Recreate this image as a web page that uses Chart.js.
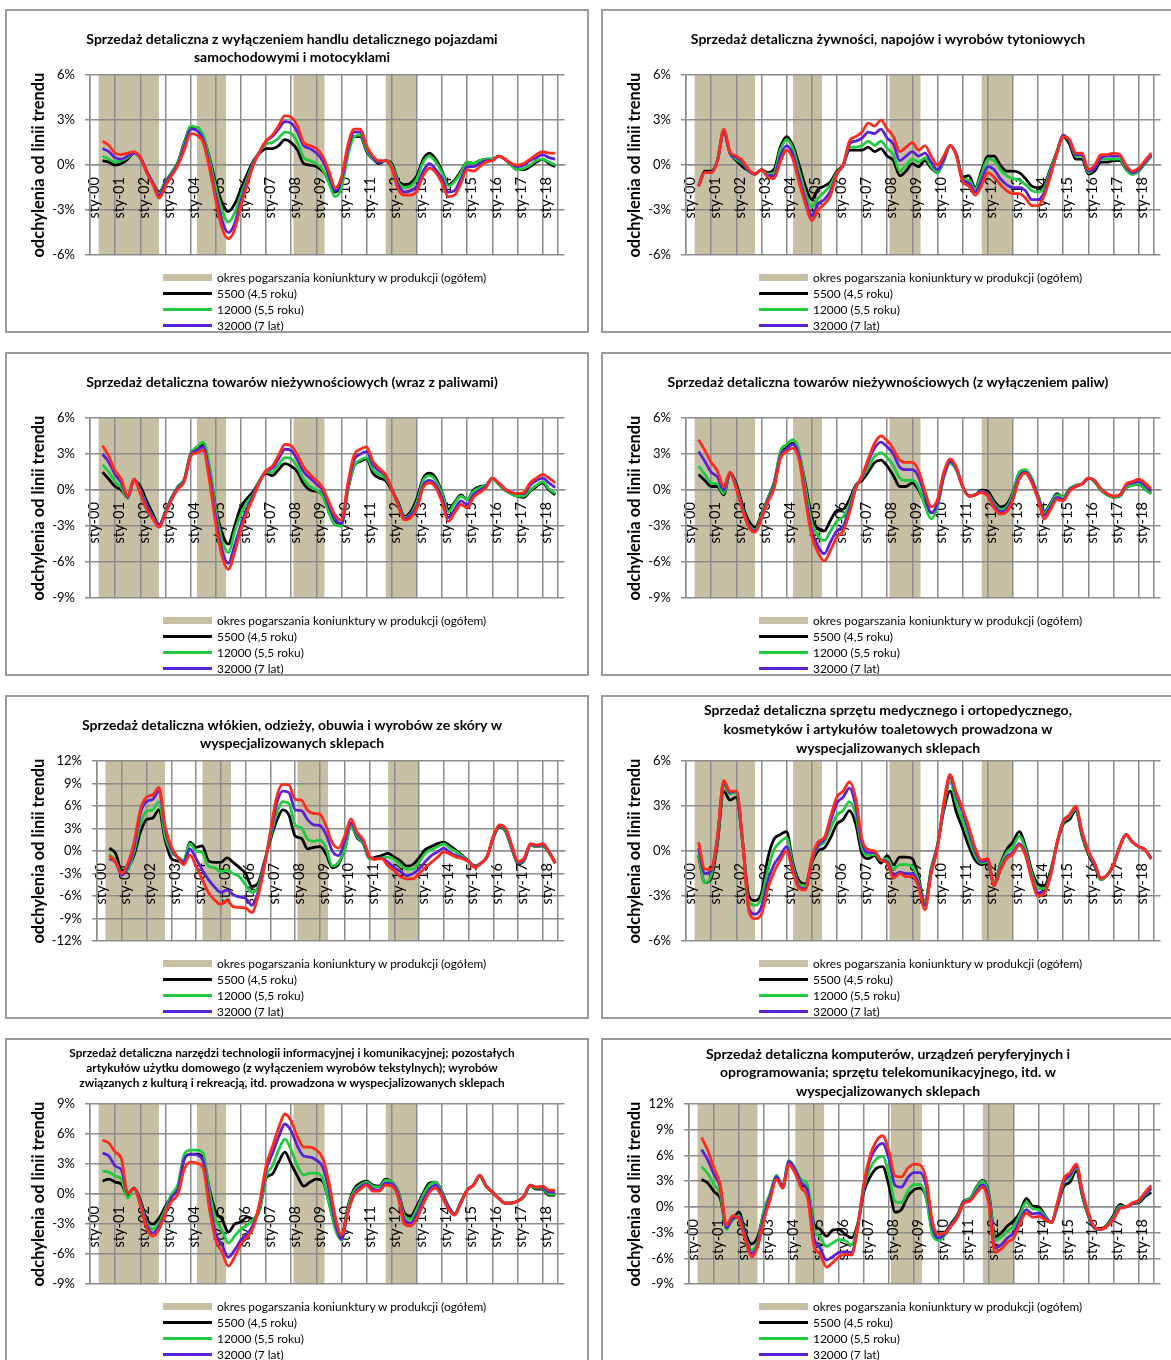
<!DOCTYPE html>
<html lang="pl">
<head>
<meta charset="utf-8">
<title>Odchylenia od linii trendu – sprzedaż detaliczna</title>
<script src="https://cdn.jsdelivr.net/npm/chart.js@4.4.1/dist/chart.umd.min.js"></script>
<style>
  html, body { margin: 0; padding: 0; background: #ffffff; }
  #page { position: relative; width: 1171px; height: 1360px; overflow: hidden; background: #fff; }
  .panel { position: absolute; width: 584px; height: 324px; box-sizing: border-box;
           border: 2px solid #9a9a9a; overflow: hidden; background: #fff; }
  .panel canvas { position: absolute; left: 0; top: 0; }
  .legend { position: absolute; left: 156px; top: 258px; font-family: Lato, sans-serif;
            font-size: 11.9px; color: #000; }
  .legend .row { height: 16px; display: flex; align-items: center; white-space: nowrap; }
  .legend .sw { display: inline-block; width: 49px; margin-right: 5px; }
  .legend .sw.band { height: 7px; }
  .legend .sw.line { height: 3px; }
</style>
</head>
<body>
<div id="page"></div>
<script>
// ---------------- DATA ----------------
const periods = ['2000-07','2000-10',
 '2001-01','2001-04','2001-07','2001-10','2002-01','2002-04','2002-07','2002-10',
 '2003-01','2003-04','2003-07','2003-10','2004-01','2004-04','2004-07','2004-10',
 '2005-01','2005-04','2005-07','2005-10','2006-01','2006-04','2006-07','2006-10',
 '2007-01','2007-04','2007-07','2007-10','2008-01','2008-04','2008-07','2008-10',
 '2009-01','2009-04','2009-07','2009-10','2010-01','2010-04','2010-07','2010-10',
 '2011-01','2011-04','2011-07','2011-10','2012-01','2012-04','2012-07','2012-10',
 '2013-01','2013-04','2013-07','2013-10','2014-01','2014-04','2014-07','2014-10',
 '2015-01','2015-04','2015-07','2015-10','2016-01','2016-04','2016-07','2016-10',
 '2017-01','2017-04','2017-07','2017-10','2018-01','2018-04','2018-07'];

// periods of deteriorating business conditions in production (first and last month, inclusive)
const bandStart = ['2000-05','2004-04','2008-02','2011-10'];
const bandEnd   = ['2002-09','2005-05','2009-04','2012-12'];
const lastObservation = '2018-08';

const xTickLabels = ['sty-00','sty-01','sty-02','sty-03','sty-04','sty-05','sty-06','sty-07','sty-08',
 'sty-09','sty-10','sty-11','sty-12','sty-13','sty-14','sty-15','sty-16','sty-17','sty-18'];

const legendLabels = ['okres pogarszania koniunktury w produkcji (ogółem)',
 '5500 (4,5 roku)', '12000 (5,5 roku)', '32000 (7 lat)'];

const panelTitles = [
 ['Sprzedaż detaliczna z wyłączeniem handlu detalicznego pojazdami','samochodowymi i motocyklami'],
 ['Sprzedaż detaliczna żywności, napojów i wyrobów tytoniowych'],
 ['Sprzedaż detaliczna towarów nieżywnościowych (wraz z paliwami)'],
 ['Sprzedaż detaliczna towarów nieżywnościowych (z wyłączeniem paliw)'],
 ['Sprzedaż detaliczna włókien, odzieży, obuwia i wyrobów ze skóry w','wyspecjalizowanych sklepach'],
 ['Sprzedaż detaliczna sprzętu medycznego i ortopedycznego,','kosmetyków i artykułów toaletowych prowadzona w','wyspecjalizowanych sklepach'],
 ['Sprzedaż detaliczna narzędzi technologii informacyjnej i komunikacyjnej; pozostałych','artykułów użytku domowego (z wyłączeniem wyrobów tekstylnych); wyrobów','związanych z kulturą i rekreacją, itd. prowadzona w wyspecjalizowanych sklepach'],
 ['Sprzedaż detaliczna komputerów, urządzeń peryferyjnych i','oprogramowania; sprzętu telekomunikacyjnego, itd. w','wyspecjalizowanych sklepach']
];
const yMin = [-6,-6,-9,-9,-12,-6,-9,-9];
const yMax = [6,6,6,6,12,6,9,12];

// Panel 1
const p1_5500  = [0.3,0.2,0.0,0.1,0.4,0.8,0.5,-0.4,-1.2,-1.8, -1.1,-0.5,0.2,1.5,2.5,2.5,1.9,0.5,-1.2,-2.5, -3.1,-2.6,-1.6,-0.6,0.3,0.8,1.1,1.1,1.3,1.7, 1.5,1.0,0.1,0.0,-0.1,-0.4,-1.0,-1.8,-1.2,0.8, 1.9,1.9,0.9,0.4,0.1,0.3,0.1,-1.0,-1.3,-1.2, -0.7,0.4,0.8,0.4,-0.4,-1.3,-1.0,-0.4,0.2,0.1, 0.3,0.4,0.4,0.6,0.4,0.0,-0.3,-0.3,-0.1,0.2, 0.4,0.1,-0.1];
const p1_12000 = [0.6,0.4,0.2,0.3,0.5,0.8,0.5,-0.4,-1.2,-1.9, -1.1,-0.5,0.2,1.4,2.6,2.5,2.0,0.4,-1.5,-3.0, -3.8,-3.2,-2.0,-0.9,0.2,0.9,1.4,1.5,1.8,2.2, 2.1,1.5,0.5,0.3,0.1,-0.3,-1.2,-2.1,-1.5,0.6, 1.9,2.0,1.0,0.4,0.2,0.3,0.0,-1.1,-1.5,-1.4, -0.9,0.2,0.6,0.2,-0.5,-1.4,-1.1,-0.5,0.2,0.1, 0.3,0.4,0.4,0.6,0.4,0.0,-0.3,-0.2,0.0,0.3, 0.4,0.2,0.0];
const p1_32000 = [1.1,0.9,0.5,0.4,0.6,0.8,0.5,-0.4,-1.2,-2.0, -1.2,-0.6,0.1,1.2,2.4,2.3,1.7,0.0,-2.0,-3.7, -4.5,-3.9,-2.4,-1.1,0.1,0.9,1.6,1.9,2.4,2.9, 2.8,2.2,1.3,1.1,0.8,0.3,-0.7,-1.7,-1.0,1.0, 2.2,2.2,1.2,0.5,0.2,0.3,-0.2,-1.3,-1.8,-1.7, -1.4,-0.4,0.1,-0.3,-0.9,-1.8,-1.7,-0.9,-0.1,-0.1, 0.1,0.3,0.3,0.6,0.4,0.1,-0.1,0.0,0.3,0.5, 0.7,0.5,0.4];
const p1_s4    = [1.6,1.3,0.8,0.7,0.8,0.9,0.5,-0.5,-1.3,-2.2, -1.4,-0.7,0.0,1.0,2.1,2.0,1.5,-0.2,-2.3,-4.2, -4.9,-4.3,-2.7,-1.3,0.0,0.9,1.6,2.0,2.6,3.3, 3.2,2.6,1.5,1.3,1.1,0.6,-0.4,-1.5,-0.8,1.3, 2.4,2.4,1.3,0.6,0.3,0.3,-0.2,-1.6,-2.0,-2.0, -1.7,-0.7,-0.2,-0.5,-1.2,-2.1,-2.0,-1.2,-0.3,-0.4, -0.1,0.2,0.3,0.6,0.4,0.1,0.0,0.1,0.4,0.7, 0.9,0.8,0.8];

// Panel 2
const p2_5500  = [-1.4,-0.4,-0.4,0.3,2.2,0.8,0.3,-0.1,-0.4,-0.6, -0.3,-0.5,-0.3,1.2,1.9,1.3,0.0,-1.4,-2.3,-1.6, -1.4,-1.1,-0.4,0.0,1.0,1.0,1.0,1.2,0.9,1.1, 0.6,0.3,-0.7,-0.4,0.1,-0.1,0.3,-0.2,-0.5,0.3, 1.3,0.7,-0.8,-0.7,-1.5,-0.4,0.6,0.6,0.0,-0.4, -0.4,-0.5,-0.9,-1.4,-1.5,-1.3,-0.2,0.9,1.9,1.4, 0.4,0.4,-0.6,-0.4,0.2,0.2,0.3,0.3,-0.3,-0.6, -0.4,0.1,0.6];
const p2_12000 = [-1.4,-0.5,-0.5,0.3,2.3,0.8,0.4,0.1,-0.4,-0.6, -0.3,-0.6,-0.5,1.0,1.7,1.1,-0.4,-1.9,-2.8,-2.2, -1.8,-1.3,-0.5,0.0,1.2,1.2,1.3,1.6,1.3,1.6, 1.1,0.7,-0.4,0.0,0.4,0.2,0.5,-0.1,-0.5,0.3, 1.3,0.7,-0.9,-1.0,-1.6,-0.6,0.4,0.3,-0.3,-0.7, -0.9,-1.0,-1.3,-1.7,-1.8,-1.5,-0.3,0.9,2.0,1.6, 0.6,0.6,-0.5,-0.2,0.4,0.4,0.4,0.4,-0.3,-0.6, -0.4,0.1,0.6];
const p2_32000 = [-1.4,-0.5,-0.5,0.3,2.3,0.8,0.5,0.2,-0.4,-0.6, -0.3,-0.7,-0.7,0.6,1.3,0.7,-0.9,-2.3,-3.4,-2.6, -2.3,-1.7,-0.6,0.0,1.4,1.6,1.8,2.2,2.1,2.4, 1.8,1.4,0.3,0.6,0.9,0.6,0.8,0.2,-0.3,0.4, 1.3,0.7,-1.0,-1.2,-1.8,-1.0,-0.1,-0.3,-0.9,-1.3, -1.5,-1.5,-1.7,-2.3,-2.3,-1.8,-0.5,0.8,2.0,1.6, 0.7,0.7,-0.4,-0.2,0.5,0.6,0.6,0.6,-0.1,-0.5, -0.3,0.2,0.7];
const p2_s4    = [-1.4,-0.5,-0.5,0.3,2.4,0.9,0.6,0.3,-0.3,-0.6, -0.3,-0.8,-0.9,0.2,1.0,0.4,-1.2,-2.6,-3.7,-3.0, -2.6,-2.0,-0.6,0.0,1.6,1.9,2.2,2.8,2.6,3.0, 2.4,1.9,0.9,1.2,1.5,1.0,1.3,0.6,0.0,0.6, 1.3,0.6,-1.1,-1.4,-2.0,-1.4,-0.5,-0.8,-1.3,-1.7, -1.9,-1.9,-2.2,-2.7,-2.7,-2.0,-0.7,0.8,1.9,1.7, 0.8,0.8,-0.3,0.0,0.7,0.7,0.8,0.7,0.0,-0.4, -0.2,0.3,0.8];

// Panel 3
const p3_5500  = [1.5,0.9,0.3,0.0,-0.6,0.8,0.3,-0.9,-2.0,-2.9, -1.8,-0.6,0.3,0.9,3.0,3.5,3.8,1.8,-1.5,-3.6, -4.5,-3.0,-1.4,-0.7,-0.1,0.8,1.4,1.2,1.7,2.2, 2.0,1.5,0.5,0.0,-0.1,-0.4,-1.8,-2.6,-2.8,0.0, 2.0,2.4,2.6,1.4,1.0,0.8,0.0,-1.0,-2.2,-1.8, -0.7,1.0,1.4,1.0,-0.2,-1.6,-1.0,-0.4,-0.8,0.0, 0.3,0.4,1.0,0.5,0.0,-0.3,-0.5,-0.6,-0.1,0.3, 0.6,0.0,-0.4];
const p3_12000 = [2.1,1.5,0.7,0.2,-0.7,0.9,0.0,-1.2,-2.2,-2.9, -1.8,-0.6,0.3,0.9,3.0,3.6,4.0,2.0,-1.7,-4.2, -5.2,-3.5,-2.0,-1.0,-0.3,0.8,1.5,1.5,2.1,2.7, 2.6,1.9,0.9,0.3,0.0,-0.5,-1.9,-2.9,-3.0,0.0, 2.0,2.5,2.7,1.7,1.3,1.0,0.1,-1.1,-2.3,-2.0, -1.0,0.8,1.2,0.8,-0.3,-1.8,-1.1,-0.5,-0.8,-0.1, 0.2,0.4,1.0,0.5,0.0,-0.3,-0.5,-0.5,0.0,0.4, 0.7,0.1,-0.3];
const p3_32000 = [3.0,2.3,1.3,0.6,-0.6,0.9,-0.1,-1.3,-2.3,-2.9, -1.9,-0.7,0.2,0.8,2.9,3.3,3.6,1.3,-2.3,-5.0, -6.1,-4.6,-2.9,-1.5,-0.4,0.7,1.6,1.8,2.6,3.4, 3.3,2.5,1.5,1.0,0.5,0.0,-1.3,-2.4,-2.8,0.3, 2.5,3.0,3.2,2.1,1.6,1.2,0.1,-1.2,-2.4,-2.1, -1.3,0.4,0.8,0.4,-0.7,-2.3,-1.6,-0.9,-1.2,-0.4, 0.0,0.3,1.0,0.6,0.1,-0.2,-0.3,-0.3,0.4,0.8, 1.0,0.6,0.2];
const p3_s4    = [3.7,2.8,1.6,0.9,-0.5,0.9,-0.3,-1.6,-2.4,-3.1, -2.0,-0.8,0.1,0.7,2.8,3.1,3.3,0.8,-2.8,-5.5, -6.6,-5.2,-3.3,-1.8,-0.6,0.7,1.6,2.0,2.9,3.8, 3.7,2.9,1.9,1.3,0.8,0.2,-1.0,-2.1,-2.5,0.5, 2.9,3.4,3.6,2.4,1.8,1.3,0.1,-1.3,-2.5,-2.3, -1.5,0.2,0.6,0.2,-1.0,-2.6,-1.9,-1.2,-1.5,-0.6, -0.2,0.2,1.0,0.6,0.1,-0.2,-0.3,-0.2,0.6,1.0, 1.3,1.0,0.6];

// Panel 4
const p4_5500  = [1.3,0.8,0.3,0.3,-0.4,1.4,0.5,-1.3,-2.6,-3.1, -2.0,-0.7,0.6,3.0,3.6,3.9,2.9,0.5,-2.3,-3.2, -3.4,-2.5,-1.7,-1.6,-0.8,0.4,0.8,1.5,2.3,2.5, 2.0,1.2,0.3,0.3,0.6,0.0,-1.1,-1.9,-1.2,1.2, 2.3,1.7,0.3,-0.5,-0.4,0.0,-0.1,-0.9,-1.4,-1.2, -0.2,1.4,1.6,0.9,-0.5,-1.8,-1.1,-0.3,-0.6,0.1, 0.4,0.5,1.0,0.7,0.0,-0.4,-0.6,-0.5,0.2,0.4, 0.5,0.1,-0.3];
const p4_12000 = [2.0,1.3,0.6,0.5,-0.3,1.4,0.3,-1.5,-2.9,-3.3, -2.1,-0.7,0.5,3.2,3.8,4.2,3.2,0.2,-2.7,-3.8, -4.2,-3.4,-2.6,-2.2,-1.2,0.3,1.0,1.9,2.8,3.1, 2.7,2.0,1.0,0.8,0.8,0.2,-1.3,-2.4,-1.4,1.0, 2.2,1.7,0.3,-0.5,-0.4,-0.1,-0.3,-1.1,-1.6,-1.4, -0.3,1.5,1.7,1.0,-0.4,-1.9,-1.2,-0.4,-0.6,0.1, 0.4,0.5,1.0,0.7,0.0,-0.4,-0.6,-0.5,0.2,0.4, 0.5,0.1,-0.3];
const p4_32000 = [3.2,2.4,1.5,1.1,0.0,1.4,0.2,-1.6,-3.0,-3.4, -2.3,-0.9,0.3,2.8,3.4,3.8,2.8,-0.5,-3.4,-4.7, -5.3,-4.3,-3.4,-3.0,-1.6,0.2,1.1,2.4,3.5,4.0, 3.6,3.0,1.9,1.7,1.7,1.1,-0.5,-1.9,-1.1,1.2, 2.4,1.8,0.3,-0.5,-0.4,-0.1,-0.4,-1.3,-1.8,-1.6, -0.6,1.1,1.5,0.8,-0.6,-2.1,-1.4,-0.6,-0.8,0.0, 0.3,0.5,1.0,0.8,0.1,-0.3,-0.5,-0.4,0.4,0.6, 0.7,0.4,-0.1];
const p4_s4    = [4.2,3.3,2.3,1.6,0.3,1.5,0.1,-1.7,-3.1,-3.5, -2.4,-1.0,0.1,2.6,3.2,3.5,2.5,-0.8,-3.8,-5.2, -5.9,-5.0,-3.9,-3.4,-1.9,0.1,1.2,2.6,3.9,4.5, 4.1,3.4,2.5,2.3,2.3,1.6,-0.1,-1.4,-0.8,1.5, 2.6,1.9,0.3,-0.5,-0.4,-0.2,-0.5,-1.5,-2.0,-1.8, -0.8,0.9,1.4,0.6,-0.8,-2.4,-1.6,-0.8,-0.9,-0.1, 0.3,0.5,1.0,0.8,0.1,-0.3,-0.5,-0.4,0.5,0.7, 0.9,0.6,0.1];

// Panel 5
const p5_5500  = [0.4,-0.3,-2.6,-2.2,-0.5,2.5,4.2,4.4,5.5,1.5, -1.0,-1.3,-1.5,1.2,0.5,0.7,-1.3,-1.5,-1.5,-0.9, -1.5,-2.2,-3.0,-4.7,-4.3,-1.5,1.5,4.0,5.5,4.8, 2.0,1.7,0.3,0.5,0.6,-0.4,-2.2,-1.7,0.3,3.4, 1.8,1.0,-1.0,-0.8,-0.6,-0.3,-0.8,-1.3,-2.0,-1.8, -0.9,0.2,0.6,1.0,1.2,0.7,0.1,-0.6,-1.3,-2.0, -1.6,-0.7,1.8,3.2,2.6,0.3,-1.7,-1.2,0.8,0.6, 0.7,-0.2,-1.6];
const p5_12000 = [-0.4,-1.3,-2.9,-2.4,0.0,3.6,5.3,5.5,6.6,2.0, -0.1,-0.8,-1.2,1.0,0.0,-0.2,-2.0,-2.2,-2.8,-2.5, -3.0,-3.4,-4.5,-5.5,-4.8,-1.8,1.8,5.0,6.6,6.3, 3.5,3.1,1.6,1.3,1.5,0.4,-2.0,-1.5,0.2,3.3, 2.0,1.0,-1.0,-1.0,-0.9,-0.8,-1.1,-1.8,-2.4,-2.4, -1.5,-0.3,0.2,0.6,1.0,0.4,-0.1,-0.7,-1.3,-2.0, -1.6,-0.7,1.8,3.3,2.7,0.4,-1.6,-1.1,0.8,0.6, 0.8,-0.2,-1.6];
const p5_32000 = [-1.0,-1.5,-3.2,-2.0,0.6,5.0,6.6,6.9,8.0,3.0, 0.3,-0.8,-1.5,0.3,-1.0,-2.5,-3.8,-4.8,-5.5,-5.2, -5.8,-6.1,-6.3,-7.2,-5.5,-2.0,2.2,6.3,8.0,7.8, 5.5,5.4,4.2,3.5,3.4,2.2,0.0,-0.6,1.3,3.8, 2.3,1.3,-0.8,-1.0,-1.0,-1.5,-2.2,-2.7,-3.3,-3.0, -2.4,-1.4,-0.6,-0.1,0.4,-0.2,-0.6,-0.9,-1.4,-2.1, -1.6,-0.7,1.9,3.4,2.9,0.6,-1.5,-1.0,0.9,0.7, 0.9,-0.1,-1.6];
const p5_s4    = [-0.6,-1.5,-3.0,-1.6,1.2,5.5,7.2,7.5,8.5,3.3, 0.6,-0.8,-1.8,-0.5,-2.0,-3.8,-5.5,-6.5,-7.1,-6.6, -7.4,-7.5,-7.6,-8.2,-6.0,-2.2,2.6,7.2,8.9,8.8, 6.9,6.8,5.4,5.0,4.9,3.3,1.1,0.4,2.0,4.3, 2.5,1.5,-0.7,-1.1,-1.0,-2.0,-2.6,-3.4,-3.7,-3.7, -3.0,-2.2,-1.5,-0.8,-0.1,-0.4,-0.8,-1.0,-1.4,-2.2, -1.6,-0.7,2.0,3.5,3.0,0.7,-1.4,-0.9,1.0,0.8, 1.0,-0.1,-1.6];

// Panel 6
const p6_5500  = [-0.3,-2.1,-1.8,0.5,4.0,3.4,3.6,0.6,-3.0,-3.3, -2.8,-0.5,0.8,1.1,1.3,-0.8,-2.0,-2.2,-0.8,0.0, 0.2,0.9,1.8,2.1,2.7,1.8,-0.2,-0.5,-0.3,-0.8, -0.3,-0.9,-0.4,-0.4,-0.5,-1.8,-3.4,-1.2,0.4,2.7, 4.0,2.6,1.5,0.3,-0.6,-0.9,-0.8,-2.2,-0.9,0.1, 0.6,1.3,0.3,-1.3,-2.2,-2.3,-1.3,0.5,1.8,2.1, 2.7,1.0,-0.2,-1.0,-1.9,-1.6,-0.9,0.3,1.1,0.6, 0.3,0.1,-0.5];
const p6_12000 = [-0.2,-2.1,-1.6,0.7,4.4,3.8,3.9,0.7,-3.4,-3.6, -3.1,-1.3,0.1,0.6,0.9,-1.0,-2.2,-2.3,-0.7,0.3, 0.6,1.5,2.4,2.7,3.3,2.4,0.2,-0.3,-0.2,-0.6, -0.5,-1.2,-0.9,-0.9,-1.0,-2.0,-3.4,-1.3,0.4,2.9, 4.6,3.2,2.0,0.8,-0.3,-0.8,-0.7,-2.2,-1.0,-0.1, 0.3,1.0,0.1,-1.5,-2.5,-2.5,-1.5,0.5,1.9,2.3, 2.8,1.1,-0.1,-0.9,-1.9,-1.6,-0.9,0.3,1.1,0.6, 0.3,0.1,-0.5];
const p6_32000 = [0.2,-1.5,-1.3,0.9,4.6,3.9,4.0,0.7,-3.8,-4.2, -3.7,-2.0,-0.9,-0.3,0.3,-1.2,-2.4,-2.5,-0.6,0.4, 0.8,2.0,3.2,3.6,4.2,3.0,0.5,-0.1,-0.1,-0.6, -0.7,-1.6,-1.4,-1.5,-1.5,-2.2,-3.6,-1.4,0.3,3.1, 4.9,3.7,2.6,1.3,0.0,-0.7,-0.6,-2.3,-1.2,-0.4, -0.1,0.5,-0.2,-1.8,-2.8,-2.7,-1.6,0.5,2.0,2.4, 2.9,1.2,0.0,-0.9,-1.8,-1.6,-0.9,0.3,1.1,0.6, 0.3,0.1,-0.5];
const p6_s4    = [0.6,-1.2,-1.2,1.0,4.7,4.0,4.0,0.7,-4.0,-4.5, -4.2,-2.5,-1.4,-0.6,0.0,-1.4,-2.5,-2.6,-0.5,0.6, 0.9,2.3,3.6,4.0,4.6,3.5,0.8,0.1,0.0,-0.6, -0.8,-1.8,-1.5,-1.7,-1.7,-2.4,-3.9,-1.5,0.2,3.2, 5.1,3.9,2.8,1.6,0.2,-0.6,-0.5,-2.3,-1.3,-0.5, -0.2,0.4,-0.3,-1.9,-3.0,-2.8,-1.6,0.5,2.0,2.4, 3.0,1.3,0.0,-0.8,-1.8,-1.6,-0.9,0.3,1.1,0.6, 0.3,0.1,-0.5];

// Panel 7
const p7_5500  = [1.3,1.5,1.2,1.0,-0.2,0.6,-0.6,-2.5,-3.0,-2.4, -1.2,-0.2,0.7,3.5,4.0,4.0,3.6,0.5,-1.8,-2.5, -3.8,-3.0,-2.8,-2.3,-2.5,-1.5,1.6,2.0,3.2,4.2, 3.0,1.8,0.8,1.2,1.5,1.3,-0.8,-3.3,-4.3,-1.3, 0.5,1.1,1.3,0.9,0.8,1.5,1.2,0.3,-1.9,-2.2, -1.2,0.1,1.1,1.2,0.2,-1.2,-2.0,-0.8,0.4,0.9, 1.8,0.8,0.2,-0.4,-0.9,-0.9,-0.7,-0.3,0.8,0.5, 0.5,-0.1,-0.1];
const p7_12000 = [2.3,2.2,1.8,1.5,-0.4,0.5,-0.8,-2.8,-3.5,-2.8, -1.5,0.0,1.0,4.0,4.4,4.4,4.1,0.2,-2.6,-3.6, -4.9,-4.2,-3.5,-3.1,-2.5,-1.5,1.8,2.8,4.4,5.5, 4.4,2.8,1.9,2.1,2.1,1.6,-0.8,-3.5,-4.6,-1.5, 0.3,0.9,1.2,0.8,0.7,1.4,1.2,0.3,-2.2,-2.5, -1.5,-0.1,0.9,1.2,0.1,-1.2,-2.0,-0.8,0.4,0.9, 1.8,0.8,0.2,-0.4,-0.9,-0.9,-0.7,-0.3,0.8,0.6, 0.6,0.0,0.0];
const p7_32000 = [4.1,3.8,2.8,2.4,0.1,0.6,-0.9,-3.1,-3.9,-3.2, -1.8,-0.3,0.5,3.5,4.0,3.9,3.3,-0.8,-4.0,-5.1, -6.3,-5.6,-4.6,-4.0,-3.0,-1.0,2.4,4.0,5.7,7.0, 6.3,4.8,3.8,3.7,3.4,2.7,0.5,-2.8,-4.5,-1.8, 0.0,0.7,1.0,0.5,0.4,1.1,1.0,0.0,-2.6,-2.9, -2.0,-0.6,0.5,0.9,-0.1,-1.3,-2.0,-0.8,0.4,0.9, 1.9,0.8,0.2,-0.4,-0.9,-0.9,-0.7,-0.2,0.9,0.7, 0.7,0.2,0.2];
const p7_s4    = [5.4,5.1,4.2,3.5,0.1,0.6,-1.1,-3.4,-4.2,-3.5, -1.9,-0.7,0.0,2.5,3.2,3.1,2.6,-1.5,-4.6,-5.8, -7.2,-6.3,-5.0,-4.3,-3.3,-0.8,2.8,4.7,6.6,8.0, 7.3,5.7,4.7,4.7,4.4,3.6,1.2,-2.2,-4.1,-1.8, -0.1,0.5,0.9,0.3,0.3,0.9,0.8,-0.3,-3.0,-3.2, -2.4,-1.0,0.2,0.6,-0.3,-1.5,-2.1,-0.9,0.4,0.9, 1.9,0.8,0.2,-0.4,-0.9,-0.9,-0.7,-0.2,0.9,0.7, 0.8,0.4,0.4];

// Panel 8
const p8_5500  = [3.2,2.8,1.8,1.0,-2.2,-1.5,-0.6,-3.0,-4.3,-3.5, -0.6,1.5,3.5,2.3,5.2,4.0,2.6,2.0,-2.0,-2.6, -3.4,-2.7,-2.6,-3.2,-3.6,-2.0,1.8,3.5,4.5,4.7, 2.5,-0.6,-0.3,1.2,2.0,2.2,1.0,-3.0,-3.8,-3.0, -1.9,-0.9,0.7,1.0,2.3,3.1,1.6,-3.5,-3.0,-2.2, -1.6,-0.6,1.0,0.1,0.0,-1.0,-1.8,0.1,2.4,2.9, 4.2,1.2,-1.2,-2.5,-2.5,-2.0,-0.9,0.3,0.0,0.4, 0.5,1.2,1.7];
const p8_12000 = [4.7,3.9,2.6,1.5,-2.6,-1.4,-1.0,-3.4,-5.0,-4.1, -0.3,1.6,3.7,2.5,5.4,4.5,3.2,2.5,-2.6,-3.5, -4.6,-4.2,-3.8,-3.9,-4.4,-2.2,2.2,4.5,5.6,5.9, 3.8,0.6,0.5,1.8,2.6,2.6,1.0,-3.3,-3.9,-3.2, -2.1,-1.0,0.6,1.0,2.2,3.0,1.4,-3.9,-3.5,-2.8, -2.2,-0.9,0.6,-0.2,-0.3,-1.1,-1.8,0.2,2.8,3.4, 4.6,1.4,-1.1,-2.5,-2.6,-2.1,-1.1,0.1,0.0,0.4, 0.6,1.4,2.1];
const p8_32000 = [6.7,5.5,3.8,2.3,-2.4,-1.3,-1.2,-3.6,-5.4,-4.4, -1.0,1.3,3.5,2.4,5.3,4.3,2.8,1.8,-3.6,-4.8, -6.2,-5.8,-5.3,-5.2,-5.3,-2.4,2.5,5.5,6.9,7.4, 5.6,2.5,2.3,3.4,4.0,4.0,2.3,-2.4,-3.6,-3.1, -2.1,-1.1,0.5,0.8,1.8,2.6,0.8,-4.8,-4.4,-3.6, -3.0,-1.5,-0.3,-0.8,-0.7,-1.3,-1.8,0.4,3.0,3.7, 4.8,1.6,-0.9,-2.5,-2.6,-2.2,-1.3,-0.1,0.0,0.4, 0.7,1.5,2.2];
const p8_s4    = [8.1,6.6,4.5,2.6,-2.1,-1.0,-1.4,-3.8,-5.8,-4.6, -1.5,0.9,3.2,2.2,5.0,3.9,2.2,1.0,-4.5,-5.5, -7.0,-6.5,-5.8,-5.5,-5.6,-2.5,2.8,6.0,7.7,8.3, 6.5,3.6,3.5,4.5,5.0,4.9,3.1,-1.8,-3.2,-3.0, -2.2,-1.2,0.4,0.7,1.6,2.3,0.3,-5.3,-4.9,-4.1, -3.6,-1.9,-0.7,-1.2,-1.1,-1.5,-1.8,0.6,3.3,4.0, 5.0,1.8,-0.8,-2.4,-2.6,-2.2,-1.4,-0.2,0.0,0.5, 0.8,1.7,2.5];

const panelSeries = [
  [p1_5500, p1_12000, p1_32000, p1_s4],
  [p2_5500, p2_12000, p2_32000, p2_s4],
  [p3_5500, p3_12000, p3_32000, p3_s4],
  [p4_5500, p4_12000, p4_32000, p4_s4],
  [p5_5500, p5_12000, p5_32000, p5_s4],
  [p6_5500, p6_12000, p6_32000, p6_s4],
  [p7_5500, p7_12000, p7_32000, p7_s4],
  [p8_5500, p8_12000, p8_32000, p8_s4]
];

// ---------------- LAYOUT / STYLE ----------------
const panelLeft = [5, 601, 5, 601, 5, 601, 5, 601];
const panelTop  = [9, 9, 352, 352, 695, 695, 1038, 1038];
const plotLeft  = [83, 83, 83, 83, 90, 83, 83, 86];
const titleSize = [14, 14, 14, 14, 14, 14, 11.8, 14];
const titleLH   = [18.8, 18.8, 18.8, 18.8, 18.8, 18.8, 15.2, 18.8];
const titlePadTop = [18.6, 18.6, 18.6, 18.6, 18.6, 4.4, 5.1, 4.6];
const CANVAS_W = 580, CANVAS_H = 262, PLOT_TOP = 64, PLOT_BOTTOM = 249, PLOT_RIGHT = 570;
const seriesColors = ['#000000', '#1ECB3E', '#5A22D6', '#FF2B1C'];
const bandColor = '#C6BFA3';
const gridColor = '#8c8c8c';
const FONT = 'Lato';

const toYear = s => { const [y, m] = s.split('-').map(Number); return y + (m - 1) / 12; };
const toYearEnd = s => { const [y, m] = s.split('-').map(Number); return y + m / 12; };
const periodX = periods.map(toYear);

const htmlLegendPlugin = {
  id: 'htmlLegend',
  afterUpdate(chart, args, options) {
    const box = document.getElementById(options.containerID);
    if (!box) return;
    box.innerHTML = '';
    chart.data.datasets.forEach(ds => {
      if (ds.legendHidden) return;
      const row = document.createElement('div');
      row.className = 'row';
      const sw = document.createElement('span');
      const isBand = !!ds.fill;
      sw.className = 'sw ' + (isBand ? 'band' : 'line');
      sw.style.background = isBand ? ds.backgroundColor : ds.borderColor;
      const tx = document.createElement('span');
      tx.textContent = ds.label;
      row.appendChild(sw); row.appendChild(tx);
      box.appendChild(row);
    });
  }
};

Chart.defaults.font.family = FONT;
Chart.defaults.color = '#000';

const page = document.getElementById('page');

panelTitles.forEach((title, i) => {
  const panel = document.createElement('div');
  panel.className = 'panel';
  panel.style.left = panelLeft[i] + 'px';
  panel.style.top = panelTop[i] + 'px';
  const canvas = document.createElement('canvas');
  canvas.width = CANVAS_W; canvas.height = CANVAS_H;
  canvas.style.width = CANVAS_W + 'px'; canvas.style.height = CANVAS_H + 'px';
  const legend = document.createElement('div');
  legend.className = 'legend';
  legend.id = 'legend' + i;
  panel.appendChild(canvas); panel.appendChild(legend);
  page.appendChild(panel);

  // band rectangles as filled line segments
  const bandData = [];
  bandStart.forEach((s, k) => {
    const a = toYear(s), b = toYearEnd(bandEnd[k]);
    bandData.push({x: a, y: yMax[i]}, {x: b, y: yMax[i]}, {x: b, y: null});
  });

  const datasets = [{
    label: legendLabels[0], data: bandData, fill: 'start', backgroundColor: bandColor,
    borderWidth: 0, pointRadius: 0, order: 5, spanGaps: false
  }];
  panelSeries[i].forEach((vals, k) => {
    datasets.push({
      label: k < 3 ? legendLabels[k + 1] : '',
      legendHidden: k === 3,
      data: vals.map((v, j) => ({x: periodX[j], y: v})),
      borderColor: seriesColors[k], backgroundColor: seriesColors[k],
      borderWidth: 2.8, pointRadius: 0, fill: false,
      cubicInterpolationMode: 'monotone', order: 4 - k
    });
  });

  const nLines = title.length;
  const padTop = titlePadTop[i];
  const padBottom = PLOT_TOP - padTop - nLines * titleLH[i];

  new Chart(canvas, {
    type: 'line',
    data: { datasets },
    plugins: [htmlLegendPlugin],
    options: {
      responsive: false, animation: false, devicePixelRatio: 1,
      events: [],
      layout: { padding: { left: 0, right: CANVAS_W - PLOT_RIGHT, top: 0, bottom: CANVAS_H - PLOT_BOTTOM } },
      plugins: {
        legend: { display: false },
        tooltip: { enabled: false },
        htmlLegend: { containerID: 'legend' + i },
        filler: { drawTime: 'beforeDraw' },
        title: {
          display: true, text: title, color: '#000',
          font: { family: FONT, size: titleSize[i], weight: 'bold', lineHeight: titleLH[i] + 'px' },
          padding: { top: padTop, bottom: padBottom }
        }
      },
      scales: {
        x: {
          type: 'linear', position: { y: 0 }, min: 2000, max: 2018.87,
          grid: { color: gridColor, lineWidth: 1.5, drawTicks: false },
          border: { color: gridColor, width: 1.5 },
          afterBuildTicks: (scale) => {
            scale.ticks = scale.ticks.filter(t => t.value <= 2018);
            scale.ticks.push({ value: toYear(lastObservation) });
          },
          ticks: {
            stepSize: 1, includeBounds: false, autoSkip: false, maxTicksLimit: 40,
            maxRotation: 90, minRotation: 90, padding: 12, labelOffset: 4,
            color: '#000', font: { family: FONT, size: 14.6 },
            callback: (v) => Number.isInteger(v) ? xTickLabels[v - 2000] : ''
          }
        },
        y: {
          type: 'linear', position: 'left', min: yMin[i], max: yMax[i],
          afterFit: (scale) => { scale.width = plotLeft[i]; },
          grid: { color: gridColor, lineWidth: 1.5, tickLength: 5, drawTicks: true },
          border: { color: gridColor, width: 1.5 },
          ticks: { stepSize: 3, padding: 10, color: '#000', font: { family: FONT, size: 13 },
                   callback: (v) => v + '%' },
          title: { display: true, text: 'odchylenia od linii trendu', color: '#000',
                   font: { family: FONT, size: 16.5, weight: 'bold' },
                   padding: { top: 22.1, bottom: 0 } }
        }
      }
    }
  });
});
</script>
</body>
</html>
